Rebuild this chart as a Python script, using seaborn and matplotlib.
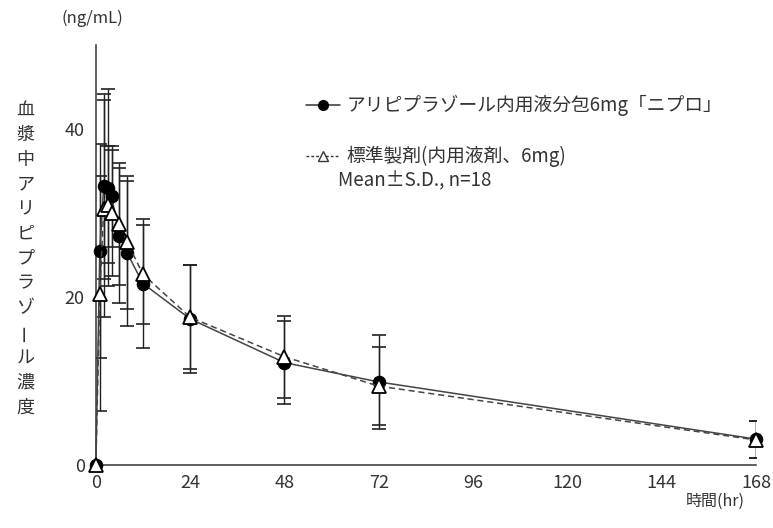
import numpy as np
import matplotlib
matplotlib.use("Agg")
import matplotlib.pyplot as plt
from matplotlib.lines import Line2D
import seaborn as sns

# 採血時間 (hr)
hours = [0, 1, 2, 3, 4, 6, 8, 12, 24, 48, 72, 168]
# アリピプラゾール内用液分包6mg「ニプロ」
test_mean = [0, 25.5, 33.2, 33.0, 32.0, 27.3, 25.2, 21.6, 17.4, 12.2, 9.9, 3.1]
test_sd = [0, 12.7, 11.0, 11.7, 6.0, 8.0, 8.6, 7.7, 6.4, 4.9, 5.6, 2.2]
# 標準製剤（内用液剤、6mg）
ref_mean = [0, 20.4, 30.5, 31.0, 30.0, 28.7, 26.5, 22.7, 17.6, 12.9, 9.4, 3.0]
ref_sd = [0, 14.0, 12.9, 7.0, 7.5, 7.3, 7.9, 5.9, 6.2, 4.9, 4.6, 2.2]

xticks = [0, 24, 48, 72, 96, 120, 144, 168]
yticks = [0, 20, 40]
ylabel = "血漿中アリピプラゾール濃度"
label_test = "アリピプラゾール内用液分包6mg「ニプロ」"
label_ref = "標準製剤(内用液剤、6mg)"

sns.set_style("white")
plt.rcParams['font.family'] = ['Noto Sans CJK JP', 'DejaVu Sans']
txt = '#333333'

fig = plt.figure(figsize=(7.73, 5.28), dpi=100)
ax = fig.add_axes([0.124, 0.119, 0.854, 0.796])

# 平均値の線
sns.lineplot(x=hours, y=test_mean, ax=ax, color='#444444', lw=1.1,
             marker='o', markersize=9, markerfacecolor='black',
             markeredgecolor='black', clip_on=False, zorder=4)
sns.lineplot(x=hours, y=ref_mean, ax=ax, color='#444444', lw=1.1,
             linestyle=(0, (4, 2.5)), marker='^', markersize=10,
             markerfacecolor='white', markeredgecolor='black',
             markeredgewidth=1.3, clip_on=False, zorder=5)

# S.D.
ax.errorbar(hours, test_mean, yerr=test_sd, fmt='none', ecolor='#222222',
            elinewidth=1, capsize=5, capthick=1.2, zorder=3)
ax.errorbar(hours, ref_mean, yerr=ref_sd, fmt='none', ecolor='#222222',
            elinewidth=1, capsize=5, capthick=1.2, zorder=3)

ax.set_xlim(0, 168)
ax.set_ylim(0, 50)
ax.set_xticks(xticks)
ax.set_yticks(yticks)
ax.tick_params(direction='out', length=5, width=1, colors='#333333',
               labelsize=13, labelcolor=txt)
ax.tick_params(axis='x', pad=1)
ax.tick_params(axis='y', pad=3)
for s in ['top', 'right']:
    ax.spines[s].set_visible(False)
for s in ['left', 'bottom']:
    ax.spines[s].set_color('#333333')
    ax.spines[s].set_linewidth(1.1)
ax.set_xlabel('')
ax.set_ylabel('')

fig.text(0.08, 0.966, "(ng/mL)", fontsize=12, color=txt, va='center')
fig.text(0.925, 0.05, "時間(hr)", fontsize=11.5, color=txt, ha='center', va='center')

# 縦書きのY軸ラベル
y0 = 1 - 110 / 528
step = 24.8 / 528
for i, ch in enumerate(ylabel):
    rot = 90 if ch == 'ー' else 0
    fig.text(0.033, y0 - i * step, ch, fontsize=13, color=txt,
             ha='center', va='center', rotation=rot)

h1 = Line2D([], [], color='#333333', lw=1.1, marker='o', markersize=7,
            markerfacecolor='black', markeredgecolor='black')
h2 = Line2D([], [], color='#333333', lw=1.0, linestyle=(0, (2, 1.5)), marker='^',
            markersize=7, markerfacecolor='white', markeredgecolor='#333333')
leg = ax.legend([h1, h2], [label_test, label_ref], loc='upper left',
                bbox_to_anchor=(0.396, 0.82), bbox_transform=fig.transFigure,
                frameon=False, fontsize=13.5, handlelength=1.8,
                handletextpad=0.35, labelspacing=1.6, labelcolor=txt,
                borderpad=0, borderaxespad=0)
fig.text(0.437, 0.659, "Mean±S.D., n=18", fontsize=13.5, color=txt, va='center')

fig.savefig("out.png", dpi=100)
